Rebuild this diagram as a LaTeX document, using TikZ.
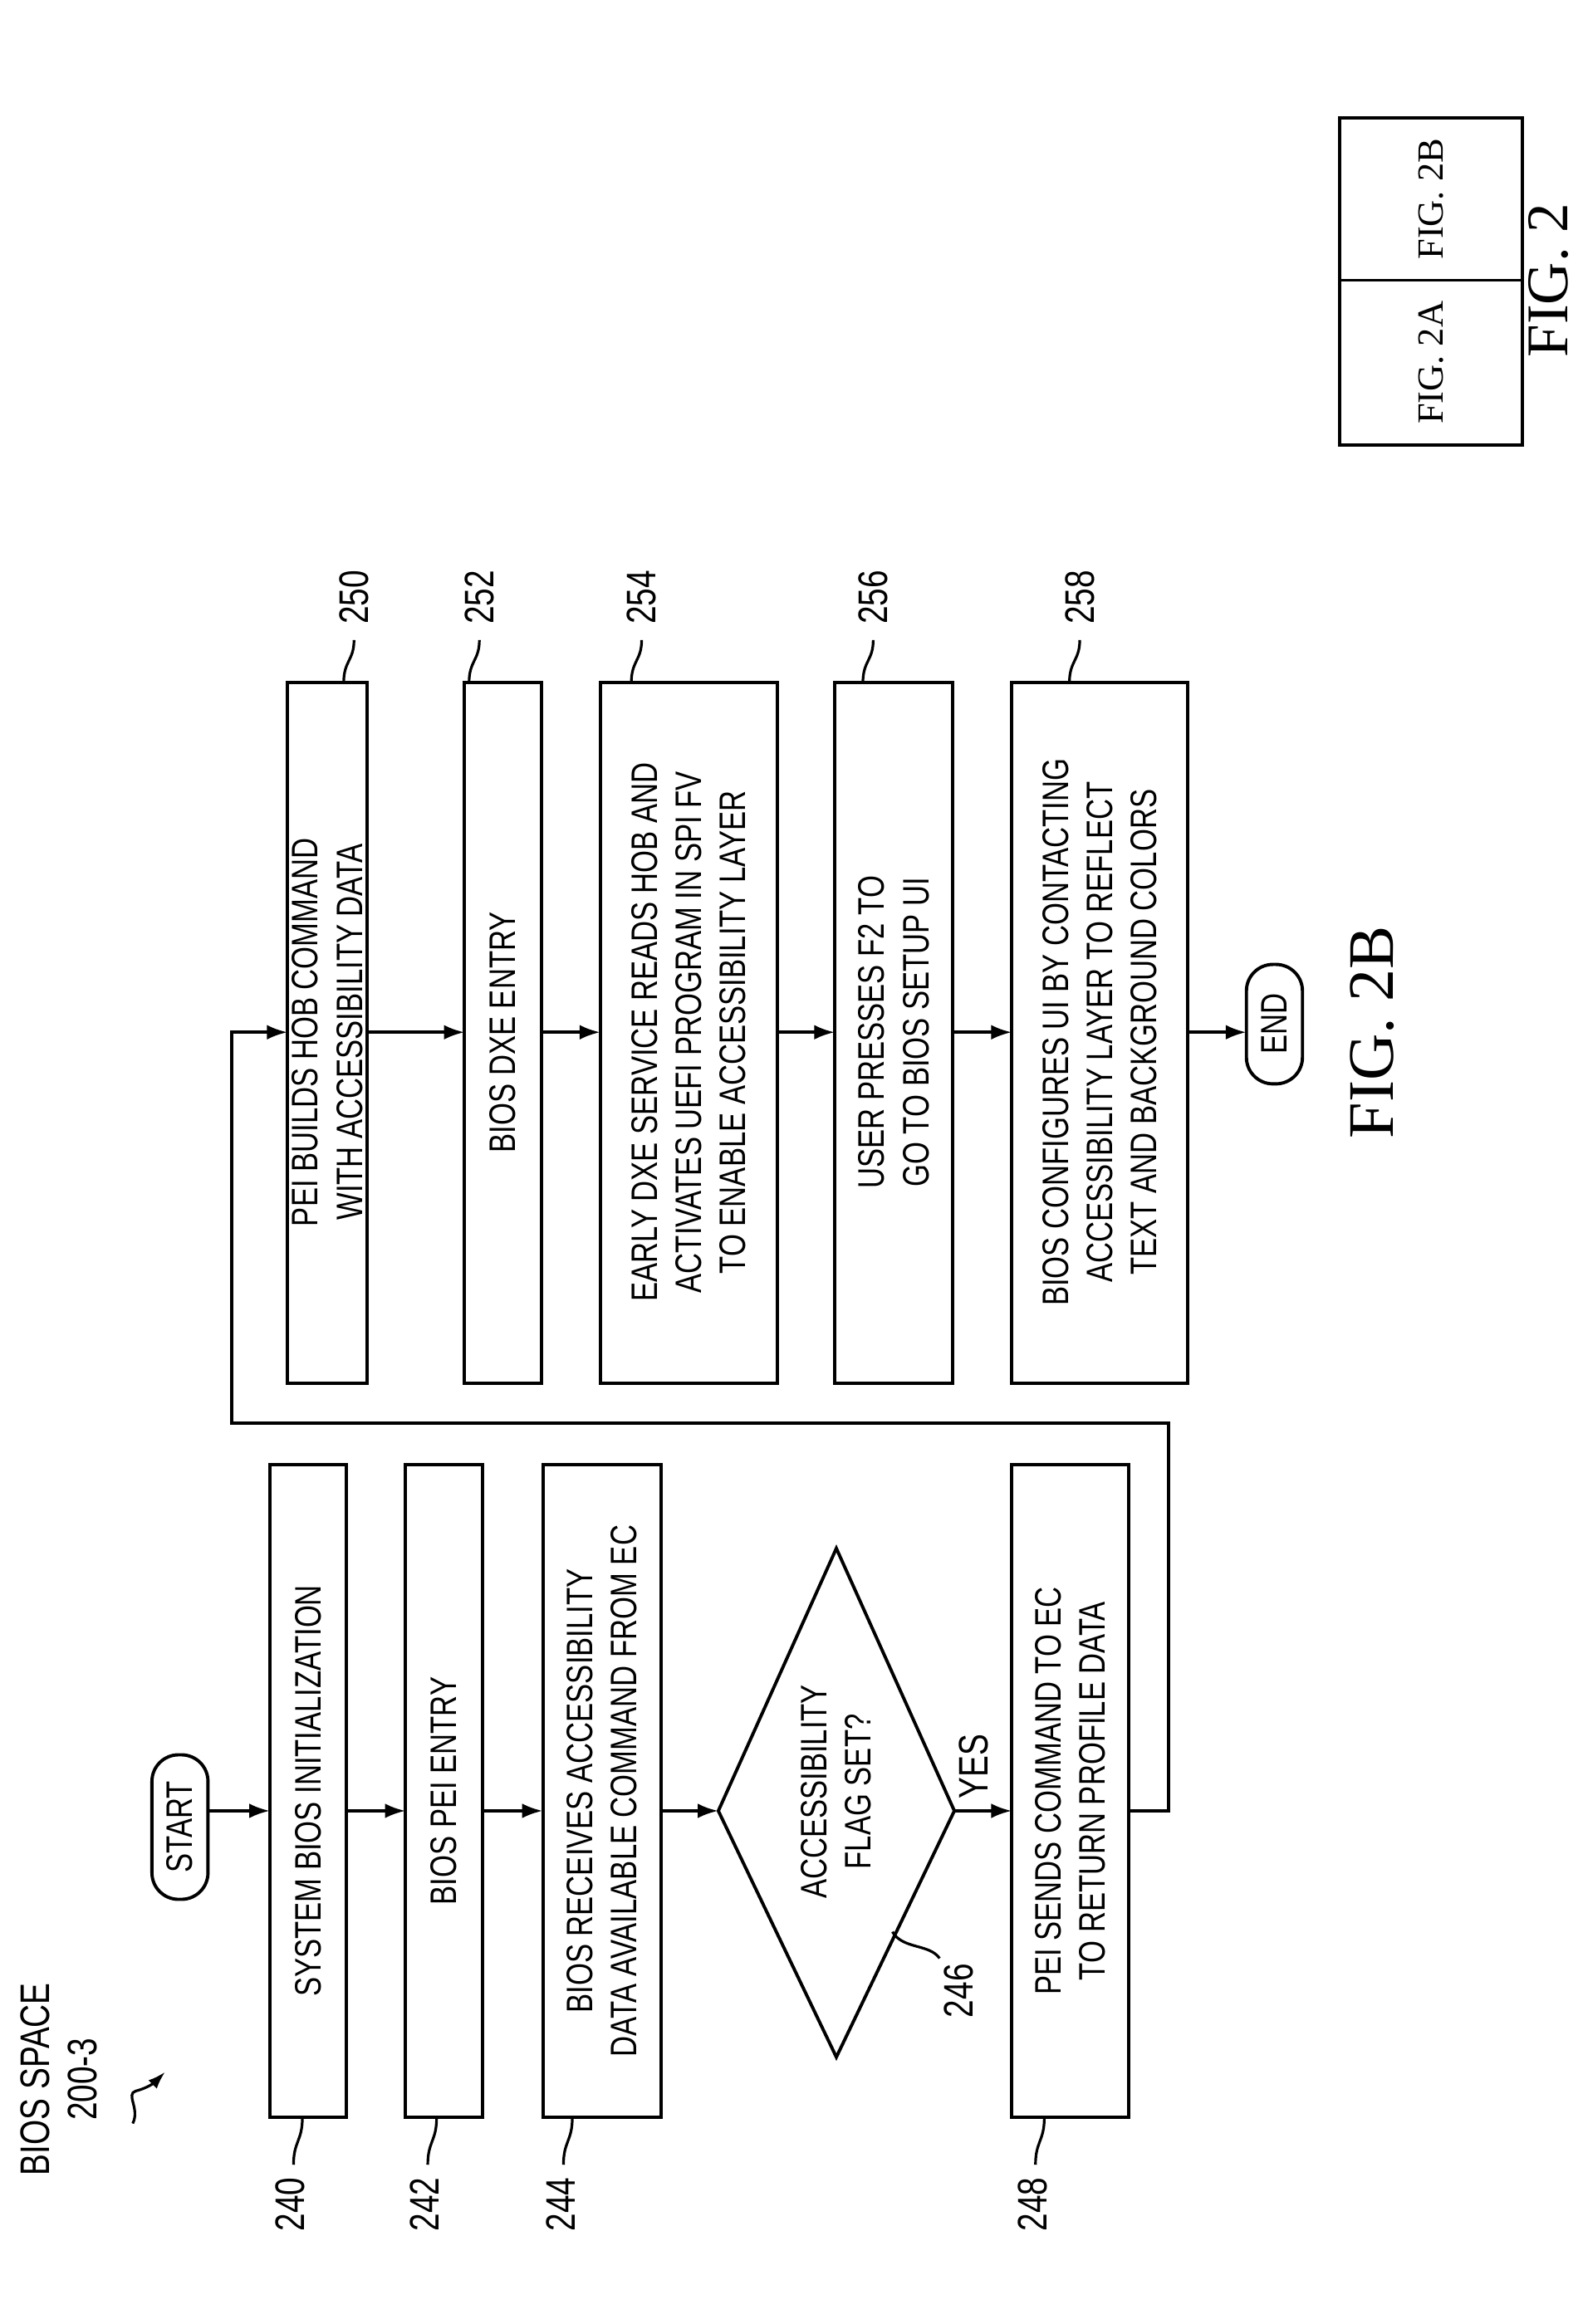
\documentclass[tikz,border=0pt]{standalone}
\usepackage{fontspec}
\setmainfont{Liberation Serif}
\newfontfamily\nar[FakeStretch=0.78]{Liberation Sans}
\usetikzlibrary{shapes.geometric,arrows.meta}
\begin{document}
\begin{tikzpicture}[x=0.5pt,y=-0.5pt,line width=1.1pt,
 txt/.style={rotate=90,align=center,font=\nar\fontsize{12.5}{15}\selectfont,inner sep=0},
 lab/.style={rotate=90,font=\nar\fontsize{14}{16}\selectfont,inner sep=1pt},
 ar/.style={-{Latex[length=7pt,width=5pt]}},
 ld/.style={line width=0.9pt}]
\useasboundingbox[fill=white] (0,0) rectangle (1073,1576);
\newcommand\lbox[4]{\draw (#1,993) rectangle (#2,1436); \node[txt] (#3) at ({(#1+#2)/2},1214.5) {#4};
 \coordinate (#3w) at (#1,1228); \coordinate (#3e) at (#2,1228);}
\newcommand\rbox[4]{\draw (#1,463) rectangle (#2,938); \node[txt] (#3) at ({(#1+#2)/2},700) {#4};
 \coordinate (#3w) at (#1,700); \coordinate (#3e) at (#2,700);}
\draw[rounded corners=9pt] (103,1190) rectangle (141,1288);
\node[txt] (start) at (122,1239) {START};
\coordinate (starte) at (141,1228);
\lbox{183}{235}{b240}{SYSTEM BIOS INITIALIZATION}
\lbox{275}{327}{b242}{BIOS PEI ENTRY}
\lbox{368}{448}{b244}{BIOS RECEIVES ACCESSIBILITY\\DATA AVAILABLE COMMAND FROM EC}
\draw (567,1050) -- (487,1228) -- (567,1395) -- (647,1228) -- cycle;
\coordinate (diaw) at (487,1228); \coordinate (diae) at (647,1228);
\node[txt] (dia) at (567,1215) {ACCESSIBILITY\\FLAG SET?};
\lbox{686}{765}{b248}{PEI SENDS COMMAND TO EC\\TO RETURN PROFILE DATA}
\draw[ar] (starte) -- (b240w);
\draw[ar] (b240e) -- (b242w);
\draw[ar] (b242e) -- (b244w);
\draw[ar] (b244e) -- (diaw);
\draw[ar] (diae) -- (b248w);
\node[lab] at (660,1198) {YES};
\rbox{195}{249}{b250}{PEI BUILDS HOB COMMAND\\WITH ACCESSIBILITY DATA}
\rbox{315}{367}{b252}{BIOS DXE ENTRY}
\rbox{407}{527}{b254}{EARLY DXE SERVICE READS HOB AND\\ACTIVATES UEFI PROGRAM IN SPI FV\\TO ENABLE ACCESSIBILITY LAYER}
\rbox{566}{646}{b256}{USER PRESSES F2 TO\\GO TO BIOS SETUP UI}
\rbox{686}{805}{b258}{BIOS CONFIGURES UI BY CONTACTING\\ACCESSIBILITY LAYER TO REFLECT\\TEXT AND BACKGROUND COLORS}
\draw[rounded corners=9pt] (845,654) rectangle (883,735);
\node[txt] (end) at (864,694) {END};
\coordinate (endw) at (845,700);
\draw[ar] (b248e) -- (792,1228) -- (792,965) -- (157,965) -- (157,700) -- (b250w);
\draw[ar] (b250e) -- (b252w);
\draw[ar] (b252e) -- (b254w);
\draw[ar] (b254e) -- (b256w);
\draw[ar] (b256e) -- (b258w);
\draw[ar] (b258e) -- (endw);
\foreach \x/\n in {197/240,288/242,380/244,700/248}{
 \node[lab] at (\x,1495) {\n};
 \draw[ld] (\x+8,1436) .. controls (\x+8,1452) and (\x+2,1452) .. (\x+2,1468);}
\node[lab] at (650,1350) {246};
\draw[ld] (605,1310) .. controls (612,1322) and (630,1318) .. (637,1328);
\foreach \x/\n in {240/250,325/252,435/254,592/256,732/258}{
 \node[lab] at (\x,405) {\n};
 \draw[ld] (\x-7,463) .. controls (\x-7,448) and (\x,448) .. (\x,434);}
\node[lab,align=center] at (40,1410) {BIOS SPACE\\200-3};
\draw[ld,-{Latex[length=6pt,width=4pt]}] (90,1440) .. controls (95,1430) and (85,1420) .. (92,1418) .. controls (100,1416) and (105,1412) .. (112,1405);
\node[rotate=90,font=\fontsize{22}{24}\selectfont] at (930,700) {FIG. 2B};
\draw (908,80) rectangle (1032,302);
\draw (908,190) -- (1032,190);
\node[rotate=90,font=\fontsize{12.5}{14}\selectfont] at (970,135) {FIG. 2B};
\node[rotate=90,font=\fontsize{12.5}{14}\selectfont] at (970,246) {FIG. 2A};
\node[rotate=90,font=\fontsize{20}{22}\selectfont] at (1050,190) {FIG. 2};
\end{tikzpicture}
\end{document}
